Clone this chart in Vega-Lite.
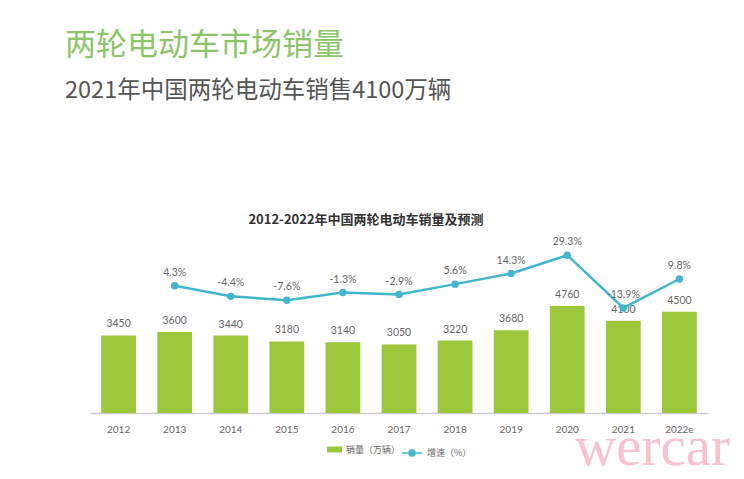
{
  "$schema": "https://vega.github.io/schema/vega-lite/v6.json",
  "background": "white",
  "padding": {"left": 65, "right": 36, "top": 29, "bottom": 5},
  "config": {
    "view": {"stroke": null},
    "font": "Noto Sans CJK SC",
    "legend": {"layout": {"bottom": {"anchor": "middle", "margin": 0}}}
  },
  "title": {
    "text": "两轮电动车市场销量",
    "subtitle": "2021年中国两轮电动车销售4100万辆",
    "anchor": "start",
    "font": "Noto Sans CJK SC",
    "fontSize": 31,
    "fontWeight": "normal",
    "color": "#8cc46a",
    "subtitleFont": "Noto Sans CJK SC",
    "subtitleFontSize": 23.5,
    "subtitleColor": "#555555",
    "subtitlePadding": 17,
    "offset": 111
  },
  "vconcat": [
    {
      "title": {
        "text": "wercar",
        "orient": "bottom",
        "anchor": "end",
        "font": "Liberation Serif",
        "fontSize": 57,
        "fontWeight": "normal",
        "color": "#f7c3cf",
        "offset": -39,
        "dx": 22
      },
      "vconcat": [
        {
          "width": 618,
          "height": 180,
          "title": {
            "text": "2012-2022年中国两轮电动车销量及预测",
            "fontSize": 13,
            "fontWeight": "bold",
            "color": "#333333",
            "anchor": "middle",
            "dx": -33,
            "offset": 6
          },
          "data": {
            "values": [
              {"year": "2012", "sales": 3450, "growth": null, "label": ""},
              {"year": "2013", "sales": 3600, "growth": 4.3, "label": "4.3%"},
              {"year": "2014", "sales": 3440, "growth": -4.4, "label": "-4.4%"},
              {"year": "2015", "sales": 3180, "growth": -7.6, "label": "-7.6%"},
              {"year": "2016", "sales": 3140, "growth": -1.3, "label": "-1.3%"},
              {"year": "2017", "sales": 3050, "growth": -2.9, "label": "-2.9%"},
              {"year": "2018", "sales": 3220, "growth": 5.6, "label": "5.6%"},
              {"year": "2019", "sales": 3680, "growth": 14.3, "label": "14.3%"},
              {"year": "2020", "sales": 4760, "growth": 29.3, "label": "29.3%"},
              {"year": "2021", "sales": 4100, "growth": -13.9, "label": "-13.9%"},
              {"year": "2022e", "sales": 4500, "growth": 9.8, "label": "9.8%"}
            ]
          },
          "encoding": {
            "x": {
              "field": "year",
              "type": "ordinal",
              "title": null,
              "scale": {"paddingInner": 0.38, "paddingOuter": 0.2},
              "axis": {
                "labelAngle": 0,
                "labelColor": "#666666",
                "labelFontSize": 10,
                "labelFont": "Lato",
                "labelPadding": 11,
                "ticks": false,
                "domainColor": "#cccccc",
                "domainWidth": 1.5,
                "grid": false
              }
            }
          },
          "layer": [
            {
              "mark": {"type": "bar"},
              "encoding": {
                "y": {
                  "field": "sales",
                  "type": "quantitative",
                  "scale": {"domain": [0, 8000]},
                  "axis": {"labels": false, "ticks": false, "domain": false, "grid": false, "title": null, "minExtent": 25, "maxExtent": 25}
                },
                "color": {
                  "datum": "销量（万辆）",
                  "scale": {"range": ["#9dc73a"]},
                  "legend": {
                    "orient": "bottom",
                    "title": null,
                    "symbolType": "M-1,-0.4H1V0.4H-1Z",
                    "symbolSize": 225,
                    "symbolFillColor": "#9dc73a",
                    "symbolStrokeWidth": 0,
                    "labelColor": "#666666",
                    "labelFontSize": 9,
                    "offset": 8
                  }
                }
              }
            },
            {
              "mark": {"type": "text", "baseline": "bottom", "dy": -6, "fontSize": 10.5, "color": "#666666", "font": "Lato"},
              "encoding": {
                "y": {"field": "sales", "type": "quantitative", "scale": {"domain": [0, 8000]}, "axis": null},
                "text": {"field": "sales", "type": "quantitative", "format": "d"}
              }
            },
            {
              "transform": [{"filter": "datum.growth != null"}],
              "mark": {"type": "line", "strokeWidth": 2.5, "point": {"filled": true, "size": 55}},
              "encoding": {
                "y": {"field": "growth", "type": "quantitative", "scale": {"domain": [-100, 47.5]}, "axis": null},
                "color": {
                  "datum": "增速（%）",
                  "scale": {"range": ["#41b6cc"]},
                  "legend": {
                    "orient": "bottom",
                    "title": null,
                    "symbolType": "M-1,0H1M0.3,0A0.3,0.3 0 1,1 -0.3,0A0.3,0.3 0 1,1 0.3,0",
                    "symbolSize": 400,
                    "symbolFillColor": "#41b6cc",
                    "symbolStrokeColor": "#41b6cc",
                    "symbolStrokeWidth": 1.5,
                    "labelColor": "#666666",
                    "labelFontSize": 9,
                    "offset": 8
                  }
                }
              }
            },
            {
              "transform": [{"filter": "datum.growth != null"}],
              "mark": {"type": "text", "baseline": "bottom", "dy": -8, "fontSize": 10.5, "color": "#666666", "font": "Lato"},
              "encoding": {
                "y": {"field": "growth", "type": "quantitative", "scale": {"domain": [-100, 47.5]}, "axis": null},
                "text": {"field": "label"}
              }
            }
          ],
          "resolve": {"scale": {"y": "independent", "color": "independent"}}
        }
      ]
    }
  ]
}
